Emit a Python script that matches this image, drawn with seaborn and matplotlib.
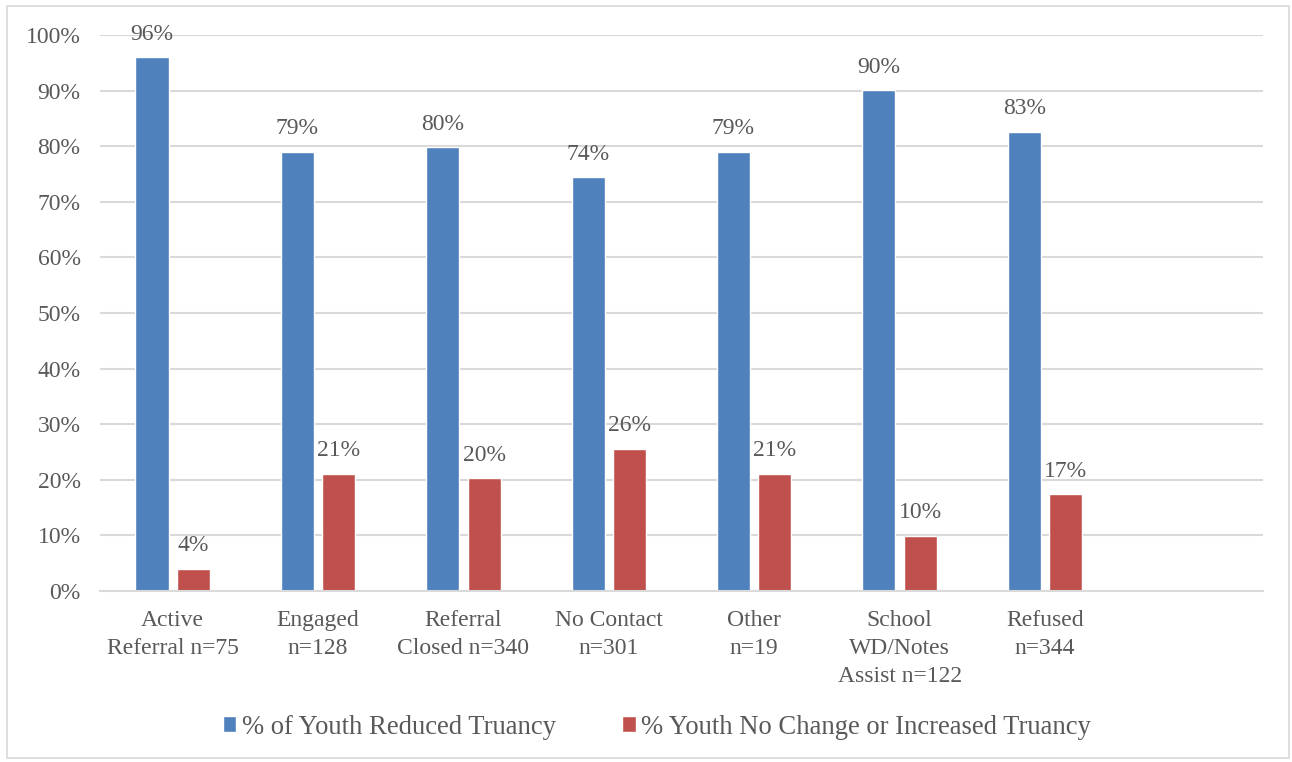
import matplotlib
matplotlib.use("Agg")
import matplotlib.pyplot as plt
import seaborn as sns
import pandas as pd
from matplotlib.patches import Rectangle

categories = ["Active\nReferral n=75", "Engaged\nn=128", "Referral\nClosed n=340",
              "No Contact\nn=301", "Other\nn=19", "School\nWD/Notes\nAssist n=122",
              "Refused\nn=344", " "]
reduced = [96.0, 79.0, 79.8, 74.4, 79.0, 90.1, 82.6]
no_change = [4.0, 21.1, 20.3, 25.6, 21.1, 9.9, 17.4]
series_names = ["% of Youth Reduced Truancy", "% Youth No Change or Increased Truancy"]
colors = ["#4F81BD", "#C0504D"]

sns.set_theme(style="white")
plt.rcParams["font.family"] = ["Liberation Serif", "DejaVu Serif"]
text_color = "#595959"
grid_color = "#D9D9D9"

rows = []
for c, a, b in zip(categories[:7], reduced, no_change):
    rows.append({"cat": c, "series": series_names[0], "val": a})
    rows.append({"cat": c, "series": series_names[1], "val": b})
df = pd.DataFrame(rows)

fig = plt.figure(figsize=(12.92, 7.62), dpi=100)
ax = fig.add_axes([100/1292, 1-591/762, 1163/1292, 556/762])

sns.barplot(data=df, x="cat", y="val", hue="series", order=categories,
            hue_order=series_names, palette=colors, width=0.57, gap=0.2,
            saturation=1, ax=ax, legend=True)

fs = 17
ax.set_xlim(-0.5, 7.5)
ax.set_ylim(0, 100)
ax.set_yticks(range(0, 101, 10))
ax.set_yticklabels([f"{v}%" for v in range(0, 101, 10)])
ax.yaxis.grid(True, color=grid_color, linewidth=1.5)
ax.set_axisbelow(True)
for s in ["top", "right", "left"]:
    ax.spines[s].set_visible(False)
ax.spines["bottom"].set_color(grid_color)
ax.spines["bottom"].set_linewidth(1.5)
ax.tick_params(axis="both", length=0, labelsize=fs, colors=text_color)
ax.tick_params(axis="x", pad=14)
ax.tick_params(axis="y", pad=14)
for lbl in ax.get_xticklabels():
    lbl.set_linespacing(1.42)
    lbl.set_verticalalignment("top")
ax.set_xlabel("")
ax.set_ylabel("")

for cont in ax.containers:
    for bar in cont:
        h = bar.get_height()
        if h != h:
            continue
        ax.annotate(f"{h:.0f}%", (bar.get_x() + bar.get_width()/2, h),
                    xytext=(0, 9), textcoords="offset points",
                    ha="center", va="bottom", fontsize=fs, color=text_color)

handles, labels = ax.get_legend_handles_labels()
ax.legend_.remove()
fig.legend(handles, labels, loc="center", bbox_to_anchor=(657/1292, 1-727/762),
           ncol=2, frameon=False, fontsize=19.2, handlelength=0.5, handleheight=0.5,
           handletextpad=0.2, columnspacing=2.5, labelcolor=text_color)

fig.patches.append(Rectangle((7/1292, 4/762), 1282/1292, 752/762, transform=fig.transFigure,
                             fill=False, edgecolor=grid_color, linewidth=1.2))

fig.savefig("out.png", dpi=100)
